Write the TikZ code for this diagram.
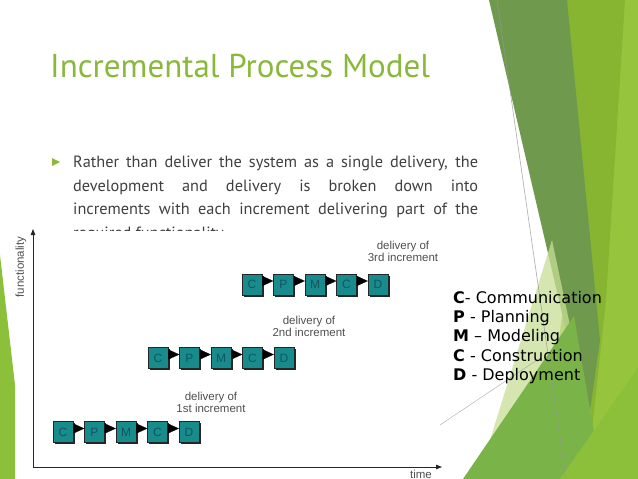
\documentclass[tikz,border=0pt]{standalone}
\usepackage{fontspec}
\setmainfont{PT Sans}
\newfontfamily\legendfont{DejaVu Sans}
\newfontfamily\diagfont{Liberation Sans}
\usetikzlibrary{arrows.meta,shadows}
\definecolor{titlegreen}{RGB}{138,184,58}
\definecolor{bodygray}{RGB}{64,64,64}
\definecolor{gbright}{RGB}{150,196,60}
\definecolor{gmid}{RGB}{135,181,50}
\definecolor{gdark}{RGB}{111,153,76}
\definecolor{gpale}{RGB}{200,222,150}
\definecolor{gmed}{RGB}{122,180,72}
\definecolor{glime}{RGB}{141,192,58}
\definecolor{linegray}{RGB}{150,150,150}
\definecolor{teal1}{RGB}{24,140,140}
\definecolor{boxtext}{RGB}{20,85,92}
\definecolor{lblgray}{RGB}{80,80,80}
\begin{document}
\begin{tikzpicture}[x=1pt,y=-1pt,
  bodyline/.style={anchor=base west, inner sep=0, text=bodygray, font=\fontsize{16.3}{19}\selectfont},
  legendline/.style={anchor=base west, inner sep=0, text=black, font=\legendfont\fontsize{16}{19}\selectfont},
  procbox/.style={draw=black!85, line width=0.4pt, fill=teal1, minimum width=20pt, minimum height=21pt, inner sep=0,
    text=boxtext, font=\diagfont\fontsize{12}{12}\selectfont,
    drop shadow={shadow xshift=1.6pt, shadow yshift=-1.6pt, fill=black!85, opacity=1}},
  conn/.style={-{Triangle[length=11pt,width=10pt]}, line width=0.2pt, black},
  lbl/.style={inner sep=0, text=lblgray, font=\diagfont\fontsize{11.5}{12}\selectfont, align=center},
  axis/.style={line width=0.8pt, black!85, -{Triangle[length=6pt,width=4.5pt]}}]
\useasboundingbox (0,0) rectangle (638,479);
\fill[white] (0,0) rectangle (638,479);
% background facets
\fill[gbright] (605,0) -- (638,0) -- (638,479) -- (540,479) -- cycle;
\fill[gmid] (564,0) -- (625,0) -- (606,300) -- (592,430) -- cycle;
\fill[gdark] (489,0) -- (567,0) -- (600,340) -- (588,425) -- cycle;
\fill[gpale, opacity=0.75] (552,240) -- (592,430) -- (478,479) -- cycle;
\fill[gmed] (463,479) -- (574,316) -- (602,479) -- cycle;
\fill[glime] (560,479) -- (638,479) -- (638,368) -- cycle;
\draw[linegray, line width=0.6pt, opacity=0.8] (497,0) -- (566,479);
\draw[linegray, line width=0.6pt, opacity=0.6] (440,425) -- (540,358);
\fill[glime] (0,255) -- (15,385) -- (15,479) -- (0,479) -- cycle;
% title
\node[anchor=base west, inner sep=0, text=titlegreen, font=\fontsize{33}{38}\selectfont] (title) at (50,77) {Incremental Process Model};
% bullet
\fill[titlegreen] (52,158) -- (60,162) -- (52,166) -- cycle;
\node[bodyline] (body1) at (73,167.5) {\makebox[405pt][s]{Rather than deliver the system as a single delivery, the}};
\node[bodyline] (body2) at (73,191) {\makebox[405pt][s]{development and delivery is broken down into}};
\node[bodyline] (body3) at (73,214.5) {\makebox[405pt][s]{increments with each increment delivering part of the}};
\begin{scope}
\clip (0,0) rectangle (638,230.5);
\node[bodyline] (body4) at (73,238) {required functionality.};
\end{scope}
% axes
\coordinate (origin) at (33,467);
\coordinate (ytip) at (33,229);
\coordinate (xtip) at (442,467);
\draw[axis] (origin) -- (ytip);
\draw[axis] (origin) -- (xtip);
\node[lbl, rotate=90] (flab) at (21,267) {functionality};
\node[lbl] (tlab) at (421,474) {time};
% increments
\foreach \r/\bx/\by in {1/63/432, 2/158/358, 3/252/284.5} {
  \foreach \l [count=\i] in {C,P,M,C,D} {
    \node[procbox] (b\r\i) at ({\bx+(\i-1)*31.5},\by) {\l};
  }
}
\foreach \r in {1,2,3} {
  \foreach \i [evaluate=\i as \j using int(\i+1)] in {1,...,4} {
    \draw[conn] ([yshift=3.5pt]b\r\i.east) -- ([yshift=3.5pt]b\r\j.west);
  }
}
\node[lbl] (d1) at (211,402) {delivery of\\1st increment};
\node[lbl] (d2) at (309,326) {delivery of\\2nd increment};
\node[lbl] (d3) at (403,251.5) {delivery of\\3rd increment};
% legend
\node[legendline] (lg1) at (453,303.5) {\textbf{C}- Communication};
\node[legendline] (lg2) at (453,322.7) {\textbf{P} - Planning};
\node[legendline] (lg3) at (453,341.9) {\textbf{M} – Modeling};
\node[legendline] (lg4) at (453,361.1) {\textbf{C} - Construction};
\node[legendline] (lg5) at (453,380.3) {\textbf{D} - Deployment};
\end{tikzpicture}
\end{document}
